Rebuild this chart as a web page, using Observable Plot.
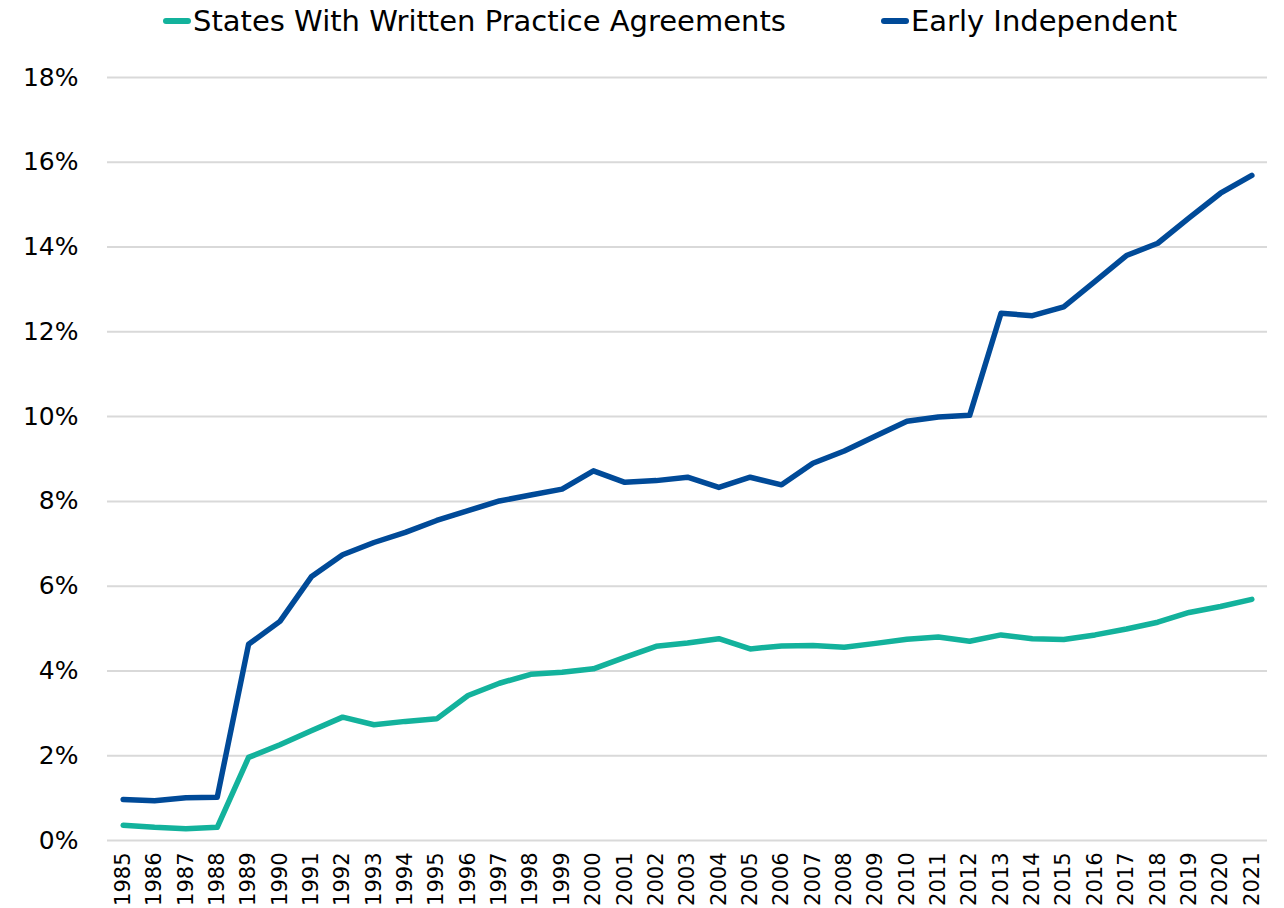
<!DOCTYPE html>
<html>
<head>
<meta charset="utf-8">
<script src="https://cdn.jsdelivr.net/npm/d3@7"></script>
<script src="https://cdn.jsdelivr.net/npm/@observablehq/plot@0.6"></script>
<style>
  html, body { margin: 0; padding: 0; background: #fff; }
  #wrap { width: 1284px; font-family: "DejaVu Sans", sans-serif; color: #000; }
  #legend { height: 42px; display: flex; align-items: center; padding-left: 163px; box-sizing: border-box; font-size: 29px; }
  .item { display: flex; align-items: center; margin-right: 95px; }
  .sw { width: 28px; height: 6px; border-radius: 3px; margin-right: 2px; }
</style>
</head>
<body>
<div id="wrap">
  <div id="legend"></div>
  <div id="chart"></div>
</div>
<script>
const years = [1985,1986,1987,1988,1989,1990,1991,1992,1993,1994,1995,1996,1997,1998,1999,2000,2001,2002,2003,2004,2005,2006,2007,2008,2009,2010,2011,2012,2013,2014,2015,2016,2017,2018,2019,2020,2021];
const written = [0.36,0.31,0.28,0.31,1.96,2.26,2.59,2.91,2.73,2.81,2.87,3.42,3.71,3.92,3.97,4.05,4.32,4.58,4.66,4.76,4.52,4.59,4.60,4.56,4.65,4.75,4.80,4.70,4.85,4.76,4.74,4.85,4.99,5.15,5.38,5.52,5.69];
const early = [0.97,0.94,1.01,1.02,4.63,5.17,6.22,6.74,7.03,7.27,7.55,7.78,8.01,8.15,8.29,8.72,8.45,8.49,8.57,8.33,8.57,8.39,8.90,9.19,9.54,9.89,9.99,10.03,12.44,12.38,12.59,13.19,13.80,14.09,14.69,15.27,15.69];
const seriesNames = ["States With Written Practice Agreements", "Early Independent"];
const seriesColors = ["#13b29c", "#004a98"];
const yTicks = [0,2,4,6,8,10,12,14,16,18];

const data = [];
years.forEach((yr, i) => {
  data.push({year: String(yr), value: written[i], series: seriesNames[0]});
  data.push({year: String(yr), value: early[i], series: seriesNames[1]});
});

const legend = document.getElementById("legend");
seriesNames.forEach((name, i) => {
  const it = document.createElement("div");
  it.className = "item";
  const sw = document.createElement("div");
  sw.className = "sw";
  sw.style.background = seriesColors[i];
  const tx = document.createElement("span");
  tx.textContent = name;
  it.appendChild(sw); it.appendChild(tx);
  legend.appendChild(it);
});

const chart = Plot.plot({
  width: 1284,
  height: 866,
  marginTop: 35,
  marginBottom: 68,
  marginLeft: 107,
  marginRight: 17,
  style: {fontFamily: "DejaVu Sans, sans-serif", color: "#000", background: "#fff"},
  x: {type: "point", domain: years.map(String), padding: 0.5, round: false},
  y: {domain: [0, 18]},
  color: {domain: seriesNames, range: seriesColors},
  marks: [
    Plot.ruleY(yTicks, {stroke: "#d9d9d9", strokeWidth: 2}),
    Plot.axisY(yTicks, {tickSize: 0, tickPadding: 29, tickFormat: d => d + "%", fontSize: 25, label: null}),
    Plot.axisX({tickSize: 0, tickPadding: 12, tickRotate: -90, fontSize: 21, label: null}),
    Plot.line(data, {x: "year", y: "value", z: "series", stroke: "series", strokeWidth: 5.5, strokeLinejoin: "round", strokeLinecap: "round"})
  ]
});
document.getElementById("chart").appendChild(chart);
</script>
</body>
</html>
